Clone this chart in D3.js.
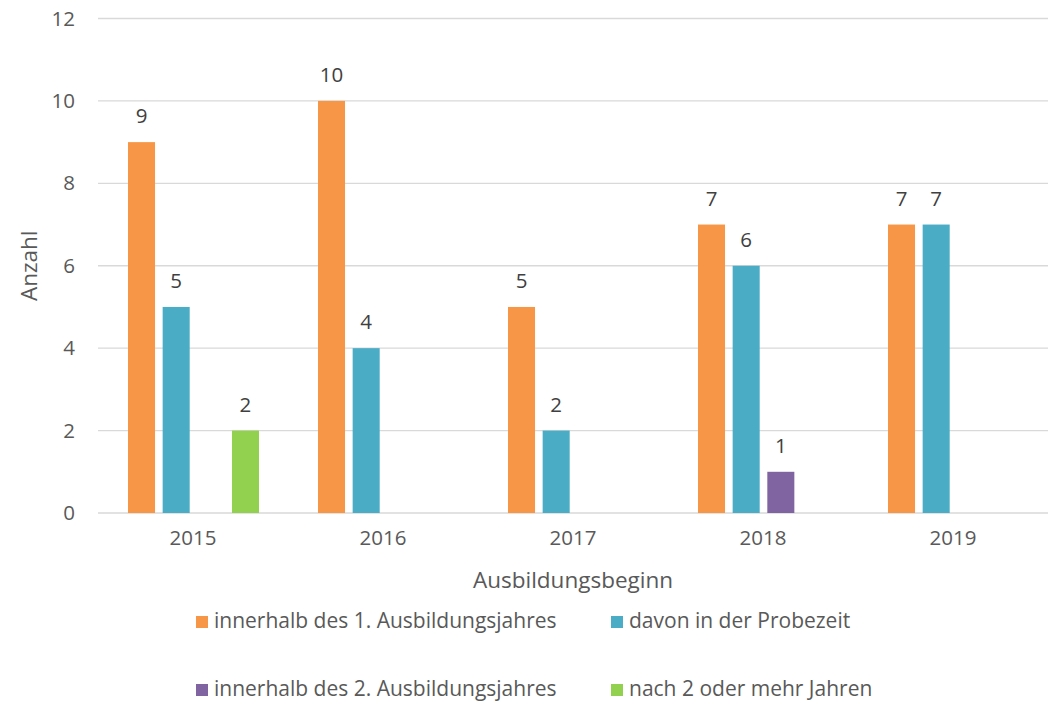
<!DOCTYPE html>
<html>
<head>
<meta charset="utf-8">
<script src="https://cdn.jsdelivr.net/npm/d3@7"></script>
<style>
  html, body { margin: 0; padding: 0; background: #fff; }
  svg { display: block; font-family: "Open Sans", sans-serif; }
</style>
</head>
<body>
<svg id="chart" width="1050" height="702"></svg>
<script>
const years = ["2015", "2016", "2017", "2018", "2019"];
const seriesNames = [
  "innerhalb des 1. Ausbildungsjahres",
  "davon in der Probezeit",
  "innerhalb des 2. Ausbildungsjahres",
  "nach 2 oder mehr Jahren"
];
const seriesColors = ["#F79646", "#4BACC6", "#8064A2", "#92D050"];
const firstYear = [9, 10, 5, 7, 7];
const probation = [5, 4, 2, 6, 7];
const secondYear = [null, null, null, 1, null];
const laterYears = [2, null, null, null, null];
const yTicks = [0, 2, 4, 6, 8, 10, 12];
const yTitle = "Anzahl";
const xTitle = "Ausbildungsbeginn";

const seriesValues = [firstYear, probation, secondYear, laterYears];

(function () {
const svg = d3.select("#chart");
const pLeft = 98, pRight = 1048, pTop = 18.5, pBottom = 513;

const x0 = d3.scaleBand().domain(years).range([pLeft, pRight]).paddingInner(0).paddingOuter(0);
const x1 = d3.scaleBand().domain(d3.range(seriesNames.length))
  .range([30, 161]).paddingInner(0.22).paddingOuter(0);
const y = d3.scaleLinear().domain([0, 12]).range([pBottom, pTop]);

// gridlines
svg.append("g").selectAll("line").data(yTicks).join("line")
  .attr("x1", pLeft).attr("x2", pRight)
  .attr("y1", d => y(d)).attr("y2", d => y(d))
  .attr("stroke", "#D9D9D9").attr("stroke-width", 1.3);

// y axis
const yAxis = svg.append("g").attr("transform", `translate(${pLeft},0)`)
  .call(d3.axisLeft(y).tickValues(yTicks).tickSize(0).tickPadding(23));
yAxis.select(".domain").remove();
yAxis.selectAll("text").attr("fill", "#595959").attr("font-size", "20.5px")
  .attr("font-family", "'Open Sans', sans-serif");

// x axis
const xAxis = svg.append("g").attr("transform", `translate(0,${pBottom})`)
  .call(d3.axisBottom(x0).tickSize(0).tickPadding(17));
xAxis.select(".domain").remove();
xAxis.selectAll("text").attr("fill", "#595959").attr("font-size", "20.5px")
  .attr("font-family", "'Open Sans', sans-serif");

const cells = [];
years.forEach((yr, i) => {
  seriesValues.forEach((vals, s) => {
    if (vals[i] != null) cells.push({ year: yr, s, v: vals[i] });
  });
});

// bars
svg.append("g").selectAll("rect").data(cells).join("rect")
  .attr("x", d => x0(d.year) + x1(d.s))
  .attr("y", d => y(d.v))
  .attr("width", x1.bandwidth())
  .attr("height", d => y(0) - y(d.v))
  .attr("fill", d => seriesColors[d.s]);

// data labels
svg.append("g").selectAll("text").data(cells).join("text")
  .attr("x", d => x0(d.year) + x1(d.s) + x1.bandwidth() / 2)
  .attr("y", d => y(d.v) - 19)
  .attr("text-anchor", "middle")
  .attr("fill", "#404040")
  .attr("font-size", "20.5px")
  .text(d => d.v);

// axis titles
svg.append("text")
  .attr("transform", `translate(37,${(pTop + pBottom) / 2}) rotate(-90)`)
  .attr("text-anchor", "middle")
  .attr("fill", "#595959")
  .attr("font-size", "22.5px")
  .text(yTitle);

svg.append("text")
  .attr("x", (pLeft + pRight) / 2).attr("y", 588)
  .attr("text-anchor", "middle")
  .attr("fill", "#595959")
  .attr("font-size", "22.5px")
  .text(xTitle);

// legend
const legendPos = [
  { mx: 196, ty: 628 },
  { mx: 611, ty: 628 },
  { mx: 196, ty: 696 },
  { mx: 611, ty: 696 }
];
const legend = svg.append("g").selectAll("g").data(seriesNames).join("g")
  .attr("transform", (d, i) => `translate(${legendPos[i].mx},${legendPos[i].ty})`);
legend.append("rect")
  .attr("x", 0).attr("y", -12).attr("width", 12).attr("height", 12)
  .attr("fill", (d, i) => seriesColors[i]);
legend.append("text")
  .attr("x", 18).attr("y", 0)
  .attr("fill", "#595959")
  .attr("font-size", "21px")
  .text(d => d);
})();
</script>
</body>
</html>
